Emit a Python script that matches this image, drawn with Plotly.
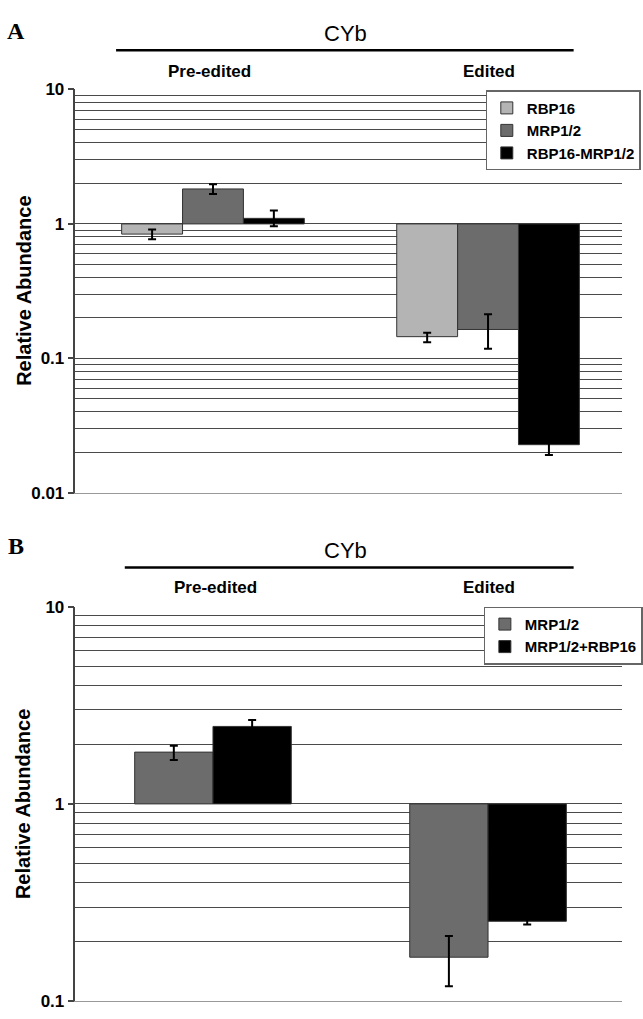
import math
import plotly.graph_objects as go

W, H = 643, 1019

# ---------------- data ----------------
categories = ["Pre-edited", "Edited"]

# Panel A
a_names = ["RBP16", "MRP1/2", "RBP16-MRP1/2"]
a_values = [[0.84, 0.145], [1.82, 0.164], [1.10, 0.0228]]
a_err_plus = [[0.07, 0.010], [0.15, 0.049], [0.16, 0.004]]
a_err_minus = [[0.07, 0.013], [0.15, 0.046], [0.14, 0.0037]]

# Panel B
b_names = ["MRP1/2", "MRP1/2+RBP16"]
b_values = [[1.83, 0.167], [2.47, 0.254]]
b_err_plus = [[0.14, 0.047], [0.19, 0.01]]
b_err_minus = [[0.16, 0.048], [0.19, 0.0095]]

colors_a = ["#b4b4b4", "#6c6c6c", "#000000"]
colors_b = ["#6c6c6c", "#000000"]

FONT = "Liberation Sans, Arial, sans-serif"
SERIF = "Liberation Serif, Times New Roman, serif"
GRID = "#4a4a4a"


def px(x):
    return x / W


def py(y):
    return 1 - y / H


fig = go.Figure()

for name, vals, ep, em, col in zip(a_names, a_values, a_err_plus, a_err_minus, colors_a):
    fig.add_trace(go.Bar(
        x=categories, y=[v - 1 for v in vals], base=[1] * len(vals), name=name,
        marker=dict(color=col, line=dict(color="#333333", width=1)),
        error_y=dict(type="data", symmetric=False, array=ep, arrayminus=em,
                     color="#000000", thickness=2, width=4),
        xaxis="x", yaxis="y", legend="legend", legendgroup="a" + name,
    ))

# panel B: wider bars, two per group, adjacent
b_width = 81 / 284.5
for i, (name, vals, ep, em, col) in enumerate(zip(b_names, b_values, b_err_plus, b_err_minus, colors_b)):
    fig.add_trace(go.Bar(
        x=categories, y=[v - 1 for v in vals], base=[1] * len(vals), name=name,
        width=b_width, offset=-b_width + i * b_width,
        marker=dict(color=col, line=dict(color="#333333", width=1)),
        error_y=dict(type="data", symmetric=False, array=ep, arrayminus=em,
                     color="#000000", thickness=2, width=4),
        xaxis="x2", yaxis="y2", legend="legend2", legendgroup="b" + name,
    ))


def minor_vals(lo, hi):
    out = []
    d = lo
    while d < hi * 0.999:
        for k in range(2, 10):
            out.append(d * k)
        d *= 10
    return out


def yaxis_cfg(domain, lo, hi, anchor):
    majors = []
    d = lo
    while d <= hi * 1.0001:
        majors.append(d)
        d *= 10
    labels = [("%g" % m) for m in majors]
    return dict(
        type="log", domain=domain, anchor=anchor,
        range=[math.log10(lo), math.log10(hi)],
        tickvals=majors, ticktext=labels,
        tickfont=dict(family=FONT, size=17, color="#000", weight="bold"),
        ticks="outside", ticklen=6, tickcolor="#444", tickwidth=1.5,
        showline=True, linecolor="#444", linewidth=1.5,
        showgrid=True, gridcolor=GRID, gridwidth=1.4,
        minor=dict(tickvals=minor_vals(lo, hi), showgrid=True, gridcolor=GRID,
                   gridwidth=1.4, ticks=""),
        zeroline=False, fixedrange=True,
    )


def xaxis_cfg(anchor):
    return dict(
        domain=[78 / W, 1], anchor=anchor, type="category",
        categoryorder="array", categoryarray=categories,
        range=[-0.5, 1.487], showticklabels=False, ticks="",
        showgrid=False, showline=True, linecolor="#999", linewidth=1.2,
        zeroline=False, fixedrange=True,
    )


legend_common = dict(
    xanchor="left", yanchor="top", bgcolor="#ffffff",
    bordercolor="#666666", borderwidth=1.2,
    font=dict(family=FONT, size=15, color="#000", weight="bold"),
    traceorder="normal", tracegroupgap=3, itemwidth=30,
)

fig.update_layout(
    width=W, height=H,
    margin=dict(l=0, r=0, t=0, b=0),
    paper_bgcolor="#ffffff", plot_bgcolor="#ffffff",
    barmode="group",
    bargap=0.336, bargroupgap=0,
    showlegend=True,
    xaxis=xaxis_cfg("y"),
    yaxis=yaxis_cfg([py(493), py(82)], 0.01, 10, "x"),
    xaxis2=xaxis_cfg("y2"),
    yaxis2=yaxis_cfg([py(1011), py(609)], 0.1, 10, "x2"),
    legend=dict(x=px(502), y=py(83), **legend_common),
    legend2=dict(x=px(500), y=py(609), **legend_common),
)

anns = []


def add_text(x, y, text, size, family=FONT, weight="bold", angle=0):
    anns.append(dict(x=px(x), y=py(y), xref="paper", yref="paper", text=text,
                     showarrow=False, textangle=angle,
                     font=dict(family=family, size=size, color="#000", weight=weight),
                     xanchor="center", yanchor="middle"))


# panel A
add_text(17, 22, "A", 24, SERIF, "bold")
add_text(357, 25, "CYb", 22, FONT, "normal")
add_text(217, 64, "Pre-edited", 17)
add_text(505, 64, "Edited", 17)
add_text(24, 287, "Relative Abundance", 20, angle=-90)
# panel B
add_text(17, 547, "B", 24, SERIF, "bold")
add_text(357, 552, "CYb", 22, FONT, "normal")
add_text(223, 590, "Pre-edited", 17)
add_text(506, 590, "Edited", 17)
add_text(24, 810, "Relative Abundance", 20, angle=-90)

fig.update_layout(annotations=anns)

# title rules
fig.add_shape(type="line", xref="paper", yref="paper", x0=px(120), x1=px(593),
              y0=py(42), y1=py(42), line=dict(color="#000", width=2.5))
fig.add_shape(type="line", xref="paper", yref="paper", x0=px(129), x1=px(593),
              y0=py(569), y1=py(569), line=dict(color="#000", width=2.5))

fig.write_html("out.html", config={"displayModeBar": False},
               post_script="document.body.style.margin='0';")
